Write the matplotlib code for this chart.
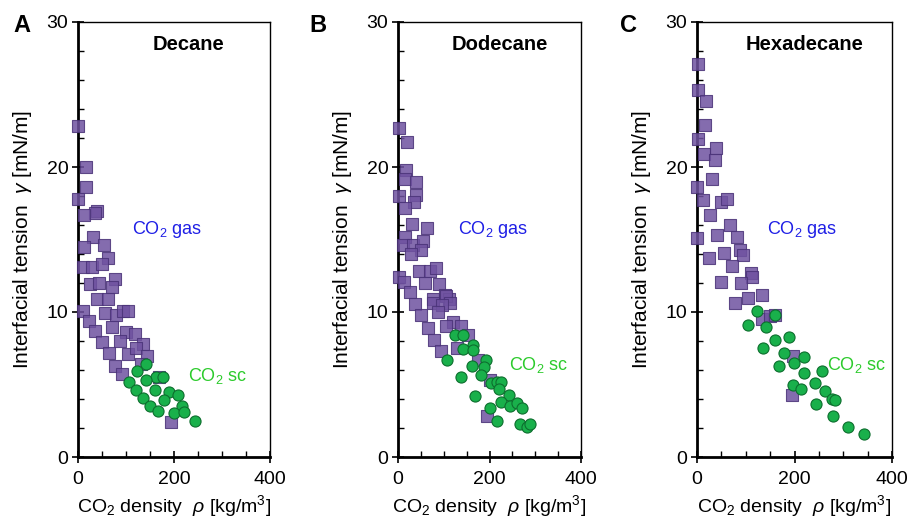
import matplotlib
matplotlib.use("Agg")
import matplotlib.pyplot as plt
from matplotlib.ticker import MultipleLocator

plt.rcParams['font.family'] = ['Liberation Sans', 'DejaVu Sans']
plt.rcParams['mathtext.fontset'] = 'custom'
plt.rcParams['mathtext.rm'] = 'Liberation Sans'
plt.rcParams['mathtext.it'] = 'Liberation Sans:italic'
plt.rcParams['mathtext.bf'] = 'Liberation Sans:bold'

panels = ["A", "B", "C"]
titles = ["Decane", "Dodecane", "Hexadecane"]

# Decane
dec_gas_x = [0, 17, 17, 0, 39, 35, 13, 32, 13, 55, 63, 10, 29, 50, 78, 25, 44, 70, 40, 62,
             10, 56, 79, 94, 104, 23, 35, 71, 100, 118, 49, 88, 135, 64, 104, 120, 144, 77, 131, 92, 169, 193]
dec_gas_y = [22.8, 20.0, 18.6, 17.8, 17.0, 16.8, 16.7, 15.2, 14.5, 14.6, 13.7, 13.1, 13.1, 13.3, 12.3, 11.9, 12.0, 11.7, 10.9, 10.9,
             10.05, 9.9, 9.8, 10.1, 10.1, 9.4, 8.7, 9.0, 8.6, 8.5, 7.9, 8.0, 7.8, 7.2, 7.1, 7.5, 7.0, 6.3, 6.4, 5.7, 5.5, 2.4]
dec_sc_x = [142, 123, 163, 177, 106, 141, 121, 160, 189, 209, 136, 179, 151, 216, 166, 199, 220, 244]
dec_sc_y = [6.4, 5.95, 5.5, 5.5, 5.2, 5.3, 4.6, 4.6, 4.5, 4.3, 4.1, 3.9, 3.5, 3.5, 3.2, 3.05, 3.1, 2.45]

# Dodecane
dod_gas_x = [3, 19, 18, 15, 39, 39, 3, 34, 15, 31, 63, 15, 12, 32, 54, 51, 28, 45, 70, 82, 2, 13, 59, 90, 26, 77, 103, 111,
             37, 77, 106, 114, 96, 88, 51, 120, 66, 106, 138, 154, 79, 130, 93, 174, 201, 194]
dod_gas_y = [22.7, 21.7, 19.8, 19.15, 19.0, 18.1, 18.0, 17.6, 17.15, 16.1, 15.8, 15.2, 14.6, 14.6, 14.9, 14.3, 14.0, 12.8, 12.8, 13.05,
             12.4, 12.05, 12.0, 11.9, 11.35, 10.9, 11.2, 10.9,
             10.55, 10.6, 11.1, 10.6, 10.5, 10.0, 9.8, 9.3, 8.9, 9.05, 9.05, 8.4, 8.1, 7.5, 7.3, 6.7, 5.3, 2.8]
dod_sc_x = [125, 143, 163, 143, 165, 108, 192, 162, 189, 181, 138, 203, 216, 226, 221, 242, 168, 225, 245, 260, 272, 200,
            216, 267, 281, 289]
dod_sc_y = [8.4, 8.4, 7.7, 7.45, 7.4, 6.7, 6.7, 6.3, 6.2, 5.65, 5.5, 5.1, 5.2, 5.2, 4.7, 4.3, 4.2, 3.8, 3.55, 3.7, 3.4, 3.35,
            2.5, 2.3, 2.1, 2.3]

# Hexadecane
hex_gas_x = [3, 3, 18, 17, 3, 39, 15, 37, 31, 1, 13, 49, 61, 26, 68, 1, 42, 83, 24, 56, 88, 94, 72, 110, 112, 49, 90,
             105, 134, 77, 133, 150, 160, 197, 195]
hex_gas_y = [27.1, 25.3, 24.55, 22.9, 21.95, 21.3, 20.9, 20.5, 19.15, 18.6, 17.7, 17.6, 17.8, 16.7, 16.0, 15.1, 15.3, 15.2,
             13.7, 14.1, 14.3, 13.9, 13.2, 12.7, 12.4, 12.1, 12.0, 11.0, 11.2, 10.6, 9.5, 9.7, 9.8, 7.0, 4.3]
hex_sc_x = [123, 160, 105, 142, 160, 189, 135, 179, 220, 199, 168, 220, 256, 197, 242, 214, 263, 276, 283, 245, 278, 310, 342]
hex_sc_y = [10.1, 9.8, 9.1, 9.0, 8.1, 8.3, 7.5, 7.15, 6.9, 6.45, 6.3, 5.8, 5.9, 5.0, 5.1, 4.7, 4.55, 4.0, 3.9, 3.65, 2.8, 2.05, 1.6]

gas_x = [dec_gas_x, dod_gas_x, hex_gas_x]
gas_y = [dec_gas_y, dod_gas_y, hex_gas_y]
sc_x = [dec_sc_x, dod_sc_x, hex_sc_x]
sc_y = [dec_sc_y, dod_sc_y, hex_sc_y]

W, H = 911, 518
fig = plt.figure(figsize=(W / 100, H / 100), dpi=100)

ax_px = [(78, 270), (398, 581), (697, 892)]
top_px, bot_px = 22, 457
gas_lbl = [(112, 15.7), (131, 15.7), (143, 15.7)]
sc_lbl = [(230, 5.6), (243, 6.35), (267, 6.35)]
letter_px = [13, 309, 620]
title_px = [189, 500, 805]

for i in range(3):
    l, r = ax_px[i]
    ax = fig.add_axes([l / W, 1 - bot_px / H, (r - l) / W, (bot_px - top_px) / H])
    ax.set_xlim(0, 400)
    ax.set_ylim(0, 30)
    ax.scatter(gas_x[i], gas_y[i], marker='s', s=64, facecolor='#6f52a0', edgecolor='#4a3378',
               linewidths=0.8, alpha=0.85, zorder=3, clip_on=False)
    ax.scatter(sc_x[i], sc_y[i], marker='o', s=64, facecolor='#19b04b', edgecolor='#0d6e2e',
               linewidths=0.8, zorder=4, clip_on=False)
    ax.xaxis.set_major_locator(MultipleLocator(200))
    ax.xaxis.set_minor_locator(MultipleLocator(50))
    ax.yaxis.set_major_locator(MultipleLocator(10))
    ax.yaxis.set_minor_locator(MultipleLocator(2))
    ax.tick_params(which='major', direction='inout', length=8, width=1.2, labelsize=14, pad=3)
    ax.tick_params(axis='x', which='major', pad=6)
    ax.tick_params(which='minor', direction='in', length=4, width=1.0)
    for s in ['left', 'bottom']:
        ax.spines[s].set_linewidth(2.0)
    for s in ['top', 'right']:
        ax.spines[s].set_linewidth(1.0)
    ax.set_xlabel(r'CO$_2$ density  $\rho$ [kg/m$^3$]', fontsize=14, labelpad=4)
    ax.set_ylabel(r'Interfacial tension  $\gamma$ [mN/m]', fontsize=15, labelpad=9)
    fig.text(title_px[i] / W, 1 - 44 / H, titles[i], ha='center', va='center',
             fontsize=14.5, fontweight='bold')
    ax.text(gas_lbl[i][0], gas_lbl[i][1], r'CO$_2$ gas', color='#1f1fe6', fontsize=13, va='center')
    ax.text(sc_lbl[i][0], sc_lbl[i][1], r'CO$_2$ sc', color='#2ccb2c', fontsize=13, va='center')
    fig.text(letter_px[i] / W, 1 - 26 / H, panels[i], fontsize=17, fontweight='bold', va='center')

fig.savefig('out.png', dpi=100)
